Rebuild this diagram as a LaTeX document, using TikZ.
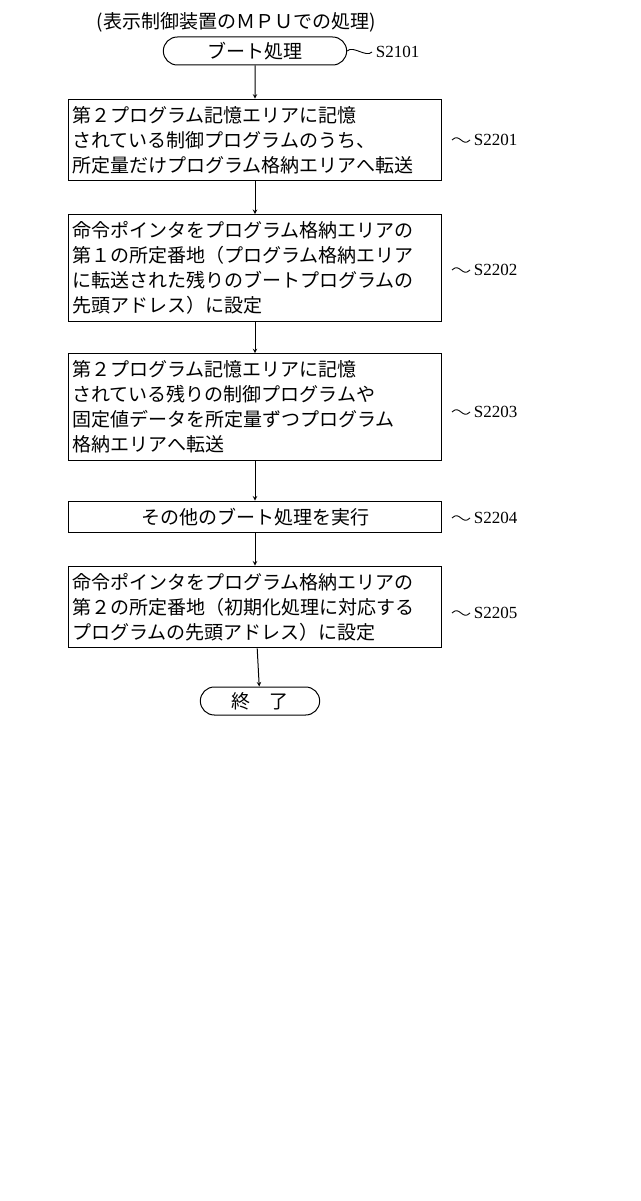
\documentclass[tikz,border=0pt]{standalone}
\usepackage{fontspec}
\setmainfont{Noto Sans CJK JP}
\newfontfamily\latinfont{Liberation Serif}
\usetikzlibrary{positioning,shapes.misc}
\def \colx {255}
\tikzstyle{stepbox}=[draw, line width=1pt, minimum width=373pt, align=left, text width=365pt, inner xsep=3pt, inner ysep=7pt, font=\fontsize{19}{25}\selectfont]
\tikzstyle{term}=[draw, line width=1pt, rounded rectangle, minimum height=28pt, font=\fontsize{19}{21}\selectfont]
\tikzstyle{stepno}=[font=\latinfont\fontsize{17}{19}\selectfont, anchor=west]
\tikzstyle{tilde}=[line width=0.9pt]
\begin{document}
\begin{tikzpicture}[x=1pt, y=1pt, >=stealth, line width=1pt]
\useasboundingbox (0,0) rectangle (640,-1201);

\node[font=\fontsize{19}{21}\selectfont] (title) at (236,-22) {(表示制御装置のＭＰＵでの処理)};
\node[term, minimum width=190pt] (start) at (\colx,-51) {ブート処理};
\node[stepbox] (B1) at (\colx,-140) {第２プログラム記憶エリアに記憶\\されている制御プログラムのうち、\\所定量だけプログラム格納エリアへ転送};
\node[stepbox] (B2) at (\colx,-268) {命令ポインタをプログラム格納エリアの\\第１の所定番地（プログラム格納エリア\\に転送された残りのブートプログラムの\\先頭アドレス）に設定};
\node[stepbox] (B3) at (\colx,-407) {第２プログラム記憶エリアに記憶\\されている残りの制御プログラムや\\固定値データを所定量ずつプログラム\\格納エリアへ転送};
\node[stepbox, align=center] (B4) at (\colx,-517) {その他のブート処理を実行};
\node[stepbox] (B5) at (\colx,-607) {命令ポインタをプログラム格納エリアの\\第２の所定番地（初期化処理に対応する\\プログラムの先頭アドレス）に設定};
\node[term, minimum width=126pt] (stop) at (260,-701) {終　了};

\draw[->] (start) -- (B1);
\draw[->] (B1) -- (B2);
\draw[->] (B2) -- (B3);
\draw[->] (B3) -- (B4);
\draw[->] (B4) -- (B5);
\draw[->] (B5) -- (stop);

% step labels
\node[stepno] (L0) at (372,-52) {S2101};
\node[stepno] (L1) at (470,-140) {S2201};
\node[stepno] (L2) at (470,-270) {S2202};
\node[stepno] (L3) at (470,-412) {S2203};
\node[stepno] (L4) at (470,-518) {S2204};
\node[stepno] (L5) at (470,-613) {S2205};

\draw[tilde] (start.east) .. controls +(6,6) and +(-6,-6) .. (L0.west);
\foreach \b/\l in {B1/L1, B2/L2, B3/L3, B4/L4, B5/L5}
    \draw[tilde] (\b.east |- \l.west) ++(10,0) .. controls +(8,8) and +(-8,-8) .. (\l.west);
\end{tikzpicture}
\end{document}
